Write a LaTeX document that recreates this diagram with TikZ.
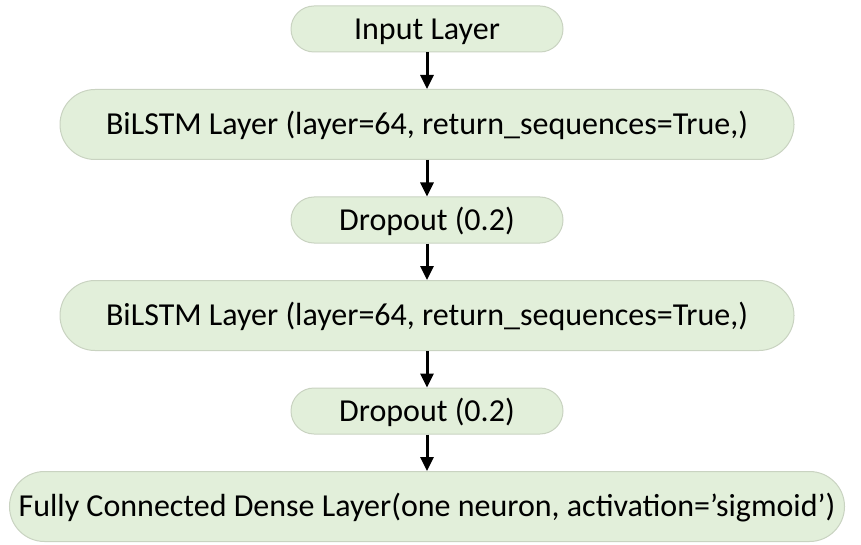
\documentclass[tikz,border=0pt]{standalone}
\usepackage{fontspec}
\setmainfont{Carlito}
\usetikzlibrary{arrows.meta, positioning}
\definecolor{layergreen}{HTML}{E2EFDA}
\definecolor{layeredge}{HTML}{C9D3C1}

\begin{document}
\begin{tikzpicture}[
  x=1pt, y=1pt,
  node distance=36.5pt,
  small/.style={draw=layeredge, fill=layergreen, line width=1pt, rounded corners=23pt,
                minimum width=272pt, minimum height=46pt, inner xsep=0pt, text centered,
                text height=20.5pt, text depth=0pt,
                font=\fontsize{32}{38}\selectfont},
  big/.style={draw=layeredge, fill=layergreen, line width=1pt, rounded corners=35pt,
              minimum width=734pt, minimum height=70pt, inner xsep=0pt, text centered,
              text height=20.5pt, text depth=0pt,
              font=\fontsize{32}{38}\selectfont},
  arrow/.style={-{Triangle[length=14pt, width=13pt]}, line width=3pt}
]
\useasboundingbox (0,0) rectangle (861,-545);

\node[small] (input) at (427,-29) {Input Layer};
\node[big, below=of input] (lstmA) {BiLSTM Layer (layer=64, return\_sequences=True,)};
\node[small, below=of lstmA] (dropA) {Dropout (0.2)};
\node[big, below=of dropA] (lstmB) {BiLSTM Layer (layer=64, return\_sequences=True,)};
\node[small, below=of lstmB] (dropB) {Dropout (0.2)};
\node[big, minimum width=835pt, below=of dropB] (dense) {Fully Connected Dense Layer(one neuron, activation=’sigmoid’)};

\draw[arrow] (input) -- (lstmA);
\draw[arrow] (lstmA) -- (dropA);
\draw[arrow] (dropA) -- (lstmB);
\draw[arrow] (lstmB) -- (dropB);
\draw[arrow] (dropB) -- (dense);
\end{tikzpicture}
\end{document}
